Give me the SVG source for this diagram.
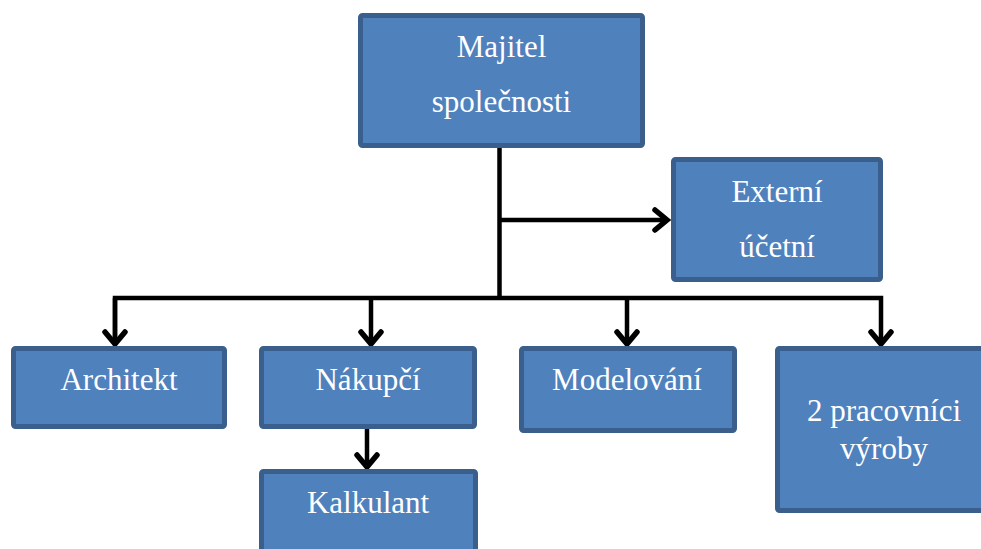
<svg xmlns="http://www.w3.org/2000/svg" width="981" height="549" viewBox="0 0 981 549">
<style>
.box{fill:#4F81BD;stroke:#3A5F8D;stroke-width:5}
.lbl{font-size:31px;fill:#FFFFFF;text-anchor:middle}
.con{fill:none;stroke:#000000;stroke-width:4.5}
</style>
<defs>
<marker id="arr" markerUnits="userSpaceOnUse" viewBox="-20 -15 25 30" refX="0" refY="0" markerWidth="25" markerHeight="30" orient="auto">
<path d="M-12,-10 L0,0 L-12,10" fill="none" stroke="#000000" stroke-width="5.5" stroke-linecap="round" stroke-linejoin="miter"/>
</marker>
</defs>
<rect width="981" height="549" fill="#FFFFFF"/>
<g id="connectors">
<path class="con" d="M499.5,148 V298"/>
<path class="con" d="M499.5,220 H667" marker-end="url(#arr)"/>
<path class="con" d="M115,344 V298 H881 V344" marker-end="url(#arr)"/>
<path class="con" d="M115,298 V344" marker-end="url(#arr)"/>
<path class="con" d="M371,298 V344" marker-end="url(#arr)"/>
<path class="con" d="M627,298 V344" marker-end="url(#arr)"/>
<path class="con" d="M367,427 V467" marker-end="url(#arr)"/>
</g>
<g font-family="'Liberation Serif', serif">
<g id="majitel">
<rect class="box" x="360.5" y="15.5" width="282" height="130" rx="2"/>
<text class="lbl" x="501.5" y="57">Majitel</text>
<text class="lbl" x="501.5" y="112">společnosti</text>
</g>
<g id="externi">
<rect class="box" x="673.5" y="159.5" width="207" height="120" rx="2"/>
<text class="lbl" x="777" y="202">Externí</text>
<text class="lbl" x="777" y="257">účetní</text>
</g>
<g id="architekt">
<rect class="box" x="13.5" y="348.5" width="211" height="78" rx="2"/>
<text class="lbl" x="119" y="390">Architekt</text>
</g>
<g id="nakupci">
<rect class="box" x="261.5" y="348.5" width="213" height="78" rx="2"/>
<text class="lbl" x="368" y="390">Nákupčí</text>
</g>
<g id="modelovani">
<rect class="box" x="521.5" y="348.5" width="213" height="82" rx="2"/>
<text class="lbl" x="627" y="390">Modelování</text>
</g>
<g id="pracovnici">
<rect class="box" x="777.5" y="348.5" width="213" height="162" rx="2"/>
<text class="lbl" x="884" y="421">2 pracovníci</text>
<text class="lbl" x="884" y="459">výroby</text>
</g>
<g id="kalkulant">
<rect class="box" x="261.5" y="471.5" width="214" height="90" rx="2"/>
<text class="lbl" x="368" y="513">Kalkulant</text>
</g>
</g>
</svg>
